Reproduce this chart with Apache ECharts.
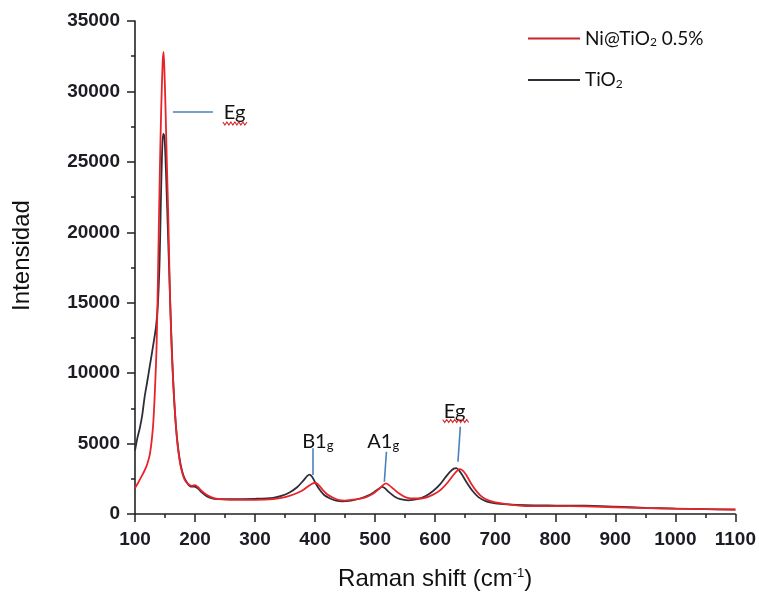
<!DOCTYPE html>
<html>
<head>
<meta charset="utf-8">
<script src="https://cdn.jsdelivr.net/npm/echarts@6/dist/echarts.min.js"></script>
<style>
  html, body { margin: 0; padding: 0; background: #ffffff; }
  #chart { width: 759px; height: 596px; }
</style>
</head>
<body>
<div id="chart"></div>
<script>
// Raman spectra, wavenumber (cm-1) vs intensity
const seriesNames = ['Ni@TiO2 0.5%', 'TiO2'];

const niTiO2Shift = [100,105,110,115,120,125,130,133,136,138.5,141,143.5,146,147.5,149,151,153,155.5,158,161,164,167,170,173,177,182,188,195,200,205,212,220,230,240,260,300,330,350,365,378,388,395,400,405,412,420,430,440,450,460,470,485,497,507,513,518,523,530,540,550,560,575,590,600,610,620,630,636,641,646,652,660,670,680,690,700,720,740,760,800,850,900,950,1000,1050,1100];
const niTiO2Intensity = [1850,2200,2600,3000,3500,4300,6200,8600,12000,17500,23500,28500,32000,32800,31500,28500,25000,21000,16000,11800,9000,7000,5300,4200,3200,2500,2150,2000,2050,1900,1600,1350,1150,1050,1000,1000,1050,1200,1400,1650,1950,2150,2220,2100,1750,1400,1150,980,950,1000,1050,1200,1450,1800,2050,2180,2050,1800,1450,1200,1100,1100,1250,1450,1750,2200,2750,3050,3180,3080,2750,2150,1550,1150,950,820,700,600,560,560,540,480,420,380,340,320];

const tiO2Shift = [100,104,108,112,116,120,125,130,135,138,141,143,145,147,149,151,153,156,159,162,165,168,172,176,181,187,193,199,205,212,220,230,240,260,300,330,345,358,370,380,387,391,395,400,407,415,425,435,445,460,475,488,498,506,512,517,523,532,542,555,570,585,597,608,617,625,631,635,640,646,653,662,672,685,700,720,750,800,850,900,950,1000,1050,1100];
const tiO2Intensity = [4500,5400,6100,7000,8300,9300,10600,11900,13300,14800,18000,22000,25500,27000,26800,25000,22500,18500,14500,11000,8300,6300,4600,3500,2700,2200,1950,1950,1800,1500,1250,1100,1050,1050,1080,1150,1300,1550,1900,2350,2700,2800,2650,2250,1750,1350,1100,950,900,950,1100,1300,1550,1800,1920,1800,1550,1250,1050,970,1050,1300,1650,2100,2600,3000,3220,3250,3080,2700,2200,1650,1200,900,760,680,620,600,590,520,440,380,340,310];

// Axis ranges and ticks
const xTicks = [100,200,300,400,500,600,700,800,900,1000,1100];
const yTicks = [0,5000,10000,15000,20000,25000,30000,35000];

// Band labels: text, anchor point of the text, leader line ends
const bandLabels = ['Eg', 'B1g', 'A1g', 'Eg'];
const bandTextAt = [[248, 28470], [404.5, 5133], [513.5, 5133], [632.4, 7263]];
const bandLeaderFrom = [[163.2, 28540], [396.7, 4665], [518.8, 4423], [641.9, 6198]];
const bandLeaderTo = [[229.8, 28540], [396.7, 2770], [515.3, 2293], [637.9, 3713]];
// Wavy spelling underline under the two "Eg" labels
const squiggleFrom = [[246.4, 27725], [612.5, 6603]];
const squiggleTo = [[288, 27725], [657.4, 6603]];

const pairs = (xs, ys) => xs.map((x, i) => [x, ys[i]]);

const tickFont = { fontFamily: 'Liberation Sans, Arial, sans-serif', fontSize: 19, fontWeight: 'bold', color: '#1c1c24' };
const calibriLike = 'Lato, "Open Sans", sans-serif';

const bandRich = {
  m: { fontFamily: calibriLike, fontSize: 20, color: '#111' },
  s: { fontFamily: calibriLike, fontSize: 13, color: '#111', padding: [9, 0, 0, 0] }
};
const bandFormat = t => {
  if (t.endsWith('g') && t.length === 3) return '{m|' + t.slice(0, 2) + '}{s|g}';
  return '{m|' + t + '}';
};

const chart = echarts.init(document.getElementById('chart'), null, { renderer: 'canvas' });

const option = {
  backgroundColor: '#ffffff',
  animation: false,
  grid: { left: 135, right: 23, top: 21, bottom: 82, containLabel: false },
  legend: {
    data: seriesNames,
    orient: 'vertical',
    left: 523,
    top: 24,
    itemWidth: 52,
    itemHeight: 2,
    itemGap: 22,
    icon: 'rect',
    formatter: name => name === 'TiO2' ? '{n|TiO}{s|2}' : '{n|Ni@TiO}{s|2}{n| 0.5%}',
    textStyle: {
      rich: {
        n: { fontFamily: calibriLike, fontSize: 19, color: '#111' },
        s: { fontFamily: calibriLike, fontSize: 12, color: '#111', padding: [8, 0, 0, 0] }
      }
    }
  },
  xAxis: {
    type: 'value',
    min: xTicks[0],
    max: xTicks[xTicks.length - 1],
    interval: 100,
    name: '{a|Raman shift (cm}{b|-1}{a|)}',
    nameLocation: 'middle',
    nameGap: 53,
    nameTextStyle: {
      rich: {
        a: { fontFamily: 'Liberation Sans, Arial, sans-serif', fontSize: 24, color: '#111' },
        b: { fontFamily: 'Liberation Sans, Arial, sans-serif', fontSize: 13, color: '#111', padding: [0, 0, 11, 0] }
      }
    },
    axisLine: { lineStyle: { color: '#222', width: 1.6 } },
    axisTick: { length: 8, lineStyle: { color: '#222', width: 1.5 } },
    minorTick: { show: true, splitNumber: 2, length: 4, lineStyle: { color: '#222', width: 1.5 } },
    splitLine: { show: false },
    axisLabel: Object.assign({ margin: 16, formatter: v => String(v) }, tickFont)
  },
  yAxis: {
    type: 'value',
    min: yTicks[0],
    max: yTicks[yTicks.length - 1],
    interval: 5000,
    name: 'Intensidad',
    nameLocation: 'middle',
    nameGap: 101,
    nameTextStyle: { fontFamily: 'Liberation Sans, Arial, sans-serif', fontSize: 24, color: '#111', padding: [0, 0, 0, 24] },
    axisLine: { show: true, lineStyle: { color: '#222', width: 1.6 } },
    axisTick: { show: true, length: 8, lineStyle: { color: '#222', width: 1.5 } },
    minorTick: { show: true, splitNumber: 2, length: 4, lineStyle: { color: '#222', width: 1.5 } },
    splitLine: { show: false },
    axisLabel: Object.assign({ margin: 15, formatter: v => String(v) }, tickFont)
  },
  series: [
    {
      name: 'TiO2',
      type: 'line',
      data: pairs(tiO2Shift, tiO2Intensity),
      showSymbol: false,
      smooth: 0.3,
      color: '#2e2e38',
      lineStyle: { color: '#2e2e38', width: 1.8 },
      z: 2
    },
    {
      name: 'Ni@TiO2 0.5%',
      type: 'line',
      data: pairs(niTiO2Shift, niTiO2Intensity),
      showSymbol: false,
      smooth: 0.3,
      color: '#c8252b',
      lineStyle: { color: '#e8232a', width: 1.8 },
      z: 3,
      markLine: {
        silent: true,
        symbol: 'none',
        label: { show: false },
        lineStyle: { color: '#4a82bd', width: 1.6, type: 'solid' },
        data: bandLeaderFrom.map((p, i) => [{ coord: p }, { coord: bandLeaderTo[i] }])
      },
      markPoint: {
        silent: true,
        symbol: 'circle',
        symbolSize: 0,
        data: bandLabels.map((t, i) => ({
          coord: bandTextAt[i],
          label: {
            show: true,
            position: i === 0 ? 'right' : 'inside',
            distance: 0,
            formatter: bandFormat(t),
            rich: bandRich
          }
        }))
      }
    }
  ]
};

chart.setOption(option);

// Red wavy underline drawn as a zigzag between two data-space points
function squiggle(from, to) {
  const a = chart.convertToPixel({ gridIndex: 0 }, from);
  const b = chart.convertToPixel({ gridIndex: 0 }, to);
  const pts = [];
  const step = 2;
  let k = 0;
  for (let x = a[0]; x <= b[0]; x += step, k++) {
    pts.push([x, a[1] + (k % 2 === 0 ? -1.5 : 1.5)]);
  }
  return {
    type: 'polyline',
    silent: true,
    z: 10,
    shape: { points: pts },
    style: { stroke: '#d9262c', lineWidth: 1.1, fill: null }
  };
}

chart.setOption({ graphic: squiggleFrom.map((p, i) => squiggle(p, squiggleTo[i])) });
</script>
</body>
</html>
